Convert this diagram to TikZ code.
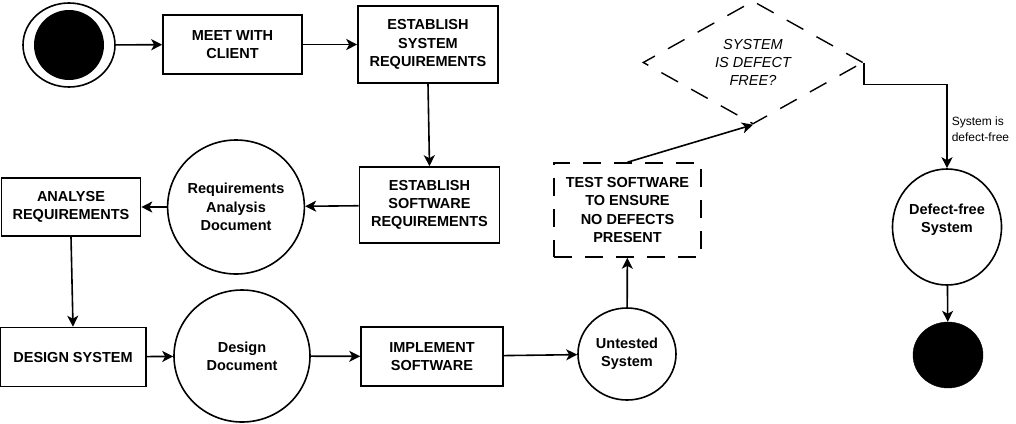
\documentclass[tikz,border=0pt]{standalone}
\usepackage{fontspec}
\setmainfont{Liberation Sans}
\usetikzlibrary{arrows.meta,shapes.geometric}
\tikzset{
  task/.style={draw, line width=1.6bp, align=center, inner sep=0pt,
    font=\bfseries\fontsize{14.5bp}{18.3bp}\selectfont},
  artefact/.style={task, ellipse},
  testbox/.style={task, dash pattern=on 18bp off 13bp},
  decision/.style={draw, diamond, line width=1.4bp, align=center, inner sep=0pt,
    shape aspect=1.77, dash pattern=on 19bp off 15bp,
    font=\itshape\fontsize{14.5bp}{18.3bp}\selectfont},
  arr/.style={line width=1.6bp, -{Stealth[length=11bp,width=11bp,inset=3bp]}}
}
\begin{document}
\begin{tikzpicture}[x=1bp, y=-1bp]
\useasboundingbox (0,0) rectangle (1016,423);
\node (start) [draw, ellipse, line width=1.6bp, minimum width=92bp, minimum height=84bp] at (69,45) {};
\fill (start.center) circle [radius=35bp];
\node (meet) [task, minimum width=139bp, minimum height=59bp] at (232.5,44.5) {MEET WITH\\CLIENT};
\node (estsys) [task, minimum width=140bp, minimum height=77bp] at (428,44.5) {ESTABLISH\\SYSTEM\\REQUIREMENTS};
\node (estsw) [task, minimum width=140bp, minimum height=76bp] at (429.5,205) {ESTABLISH\\SOFTWARE\\REQUIREMENTS};
\node (reqdoc) [artefact, minimum width=135bp, minimum height=134bp] at (236,207) {Requirements\\Analysis\\Document};
\node (analyse) [task, minimum width=139bp, minimum height=58bp] at (71,207) {ANALYSE\\REQUIREMENTS};
\node (design) [task, minimum width=146bp, minimum height=59bp] at (73,357) {DESIGN SYSTEM};
\node (designdoc) [artefact, minimum width=136bp, minimum height=132bp] at (242,356) {Design\\Document};
\node (impl) [task, minimum width=142bp, minimum height=59bp] at (432,356.5) {IMPLEMENT\\SOFTWARE};
\node (untested) [artefact, minimum width=98bp, minimum height=92bp] at (627,354) {Untested\\System};
\node (test) [testbox, minimum width=147bp, minimum height=94bp] at (627.5,210) {TEST SOFTWARE\\TO ENSURE\\ NO DEFECTS\\PRESENT};
\node (check) [decision, minimum width=220bp, minimum height=123bp] at (753,62.5) {SYSTEM\\IS DEFECT\\FREE?};
\node (done) [artefact, minimum width=109bp, minimum height=116bp, text depth=17bp] at (947,227) {Defect-free\\System};
\node (stop) [draw, ellipse, fill, minimum width=70bp, minimum height=66bp] at (948,355) {};

\draw [arr] (start) -- (meet);
\draw [arr] (meet) -- (estsys);
\draw [arr] (estsys.south) -- (estsw.north);
\draw [arr] (estsw) -- (reqdoc);
\draw [arr] (reqdoc) -- (analyse);
\draw [arr] (analyse.south) -- (design.north);
\draw [arr] (design) -- (designdoc);
\draw [arr] (designdoc) -- (impl);
\draw [arr] (impl) -- (untested);
\draw [arr] (untested) -- (test);
\draw [arr] (test.north) -- (check.south);
\draw [arr] (check.east) -- ++(0,22) -| (done.north)
  node [pos=0.77, right, align=left, inner sep=4bp, font=\fontsize{12bp}{16bp}\selectfont] {System is\\defect-free};
\draw [arr] (done) -- (stop);
\end{tikzpicture}
\end{document}
